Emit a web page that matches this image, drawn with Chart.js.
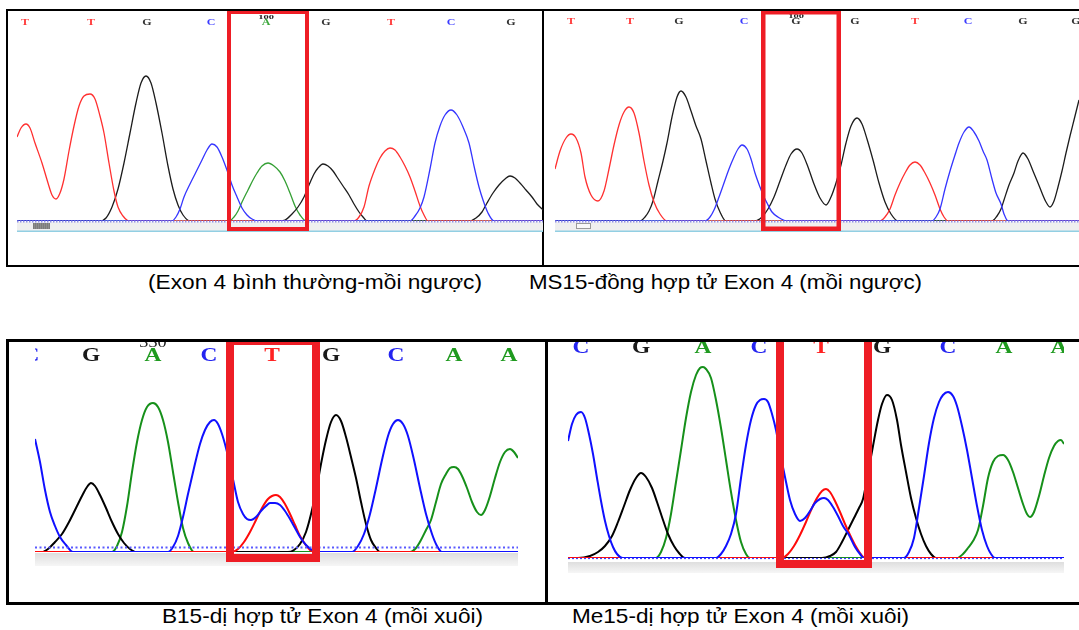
<!DOCTYPE html>
<html><head><meta charset="utf-8">
<script src="https://cdn.jsdelivr.net/npm/chart.js@4.4.0/dist/chart.umd.min.js"></script>
<style>
html,body{margin:0;padding:0;background:#fff;}
#stage{position:relative;width:1079px;height:630px;overflow:hidden;background:#fff;}
.ln{position:absolute;background:#000;}
canvas{position:absolute;}
.cap{position:absolute;font-family:'Liberation Sans',Arial,sans-serif;font-size:21px;line-height:21px;white-space:nowrap;transform-origin:0 0;color:#000;}
</style></head><body>
<div id="stage">
  <div class="ln" style="left:6px;top:9px;width:1073px;height:2px"></div>
  <div class="ln" style="left:6px;top:9px;width:2px;height:258px"></div>
  <div class="ln" style="left:542px;top:9px;width:2px;height:258px"></div>
  <div class="ln" style="left:6px;top:265px;width:1073px;height:2px"></div>

  <div class="ln" style="left:6px;top:339px;width:1073px;height:3px"></div>
  <div class="ln" style="left:6px;top:339px;width:2.5px;height:266px"></div>
  <div class="ln" style="left:545px;top:339px;width:2.5px;height:266px"></div>
  <div class="ln" style="left:6px;top:602px;width:1073px;height:3px"></div>

  <canvas id="c1" width="526" height="221" style="left:17px;top:11px"></canvas>
  <canvas id="c2" width="524" height="221" style="left:555px;top:11px"></canvas>
  <canvas id="c3" width="483" height="224" style="left:35px;top:342px"></canvas>
  <canvas id="c4" width="496" height="231" style="left:568px;top:342px"></canvas>

  <div class="cap" id="cap1" style="left:148px;top:271px">(Exon 4 bình thường-mồi ngược)</div>
  <div class="cap" id="cap2" style="left:529px;top:271px">MS15-đồng hợp tử Exon 4 (mồi ngược)</div>
  <div class="cap" id="cap3" style="left:162px;top:605px">B15-dị hợp tử Exon 4 (mồi xuôi)</div>
  <div class="cap" id="cap4" style="left:572px;top:605px">Me15-dị hợp tử Exon 4 (mồi xuôi)</div>
</div>
<script>
// ---------------- DATA (scan position within window, signal intensity) ----------------
// Panel 1: Exon 4 normal, reverse primer
const p1Bases = ['T','T','G','C','A','G','T','C','G'];
const p1BasePos = [8,74,130,194,249,309,374,434,494];
const p1PosLabel = ['100', 4];
const p1Box = [210, 292];
const p1T = [[0,84],[4,93],[9,97],[13,93],[18,78],[25,58],[31,38],[35,26],[39,22],[43,28],[47,42],[52,70],[57,95],[62,115],[67,125],[73,127],[78,122],[83,105],[87,88],[92,58],[97,30],[101,14],[106,5],[112,0],[337,0],[342,4],[347,14],[352,35],[358,52],[363,63],[368,70],[373,73],[378,71],[383,64],[388,55],[393,44],[398,30],[403,15],[407,6],[411,0],[526,0]];
const p1G = [[0,0],[83,0],[89,3],[95,14],[101,32],[107,58],[113,88],[119,118],[124,138],[129,145],[134,138],[139,118],[145,88],[151,55],[156,32],[161,16],[166,6],[173,0],[261,0],[268,1],[275,7],[281,14],[287,24],[292,36],[297,47],[301,53],[306,57],[311,55],[316,50],[320,44],[326,35],[332,26],[337,17],[342,9],[346,4],[350,0],[452,0],[459,3],[465,9],[470,18],[476,28],[482,36],[488,42],[493,45],[498,43],[503,38],[509,31],[515,24],[520,17],[526,11]];
const p1C = [[0,0],[155,0],[159,4],[163,12],[167,24],[173,37],[179,49],[185,61],[190,71],[195,77],[200,74],[205,64],[211,48],[215,36],[220,24],[225,13],[230,6],[235,2],[241,0],[393,0],[398,5],[403,13],[407,24],[413,52],[418,78],[423,95],[428,106],[434,111],[440,106],[446,94],[452,78],[457,55],[462,34],[466,21],[471,8],[477,0],[526,0]];
const p1A = [[0,0],[212,0],[217,4],[221,10],[226,21],[231,31],[236,41],[240,48],[245,55],[251,58],[257,55],[263,49],[268,40],[273,28],[278,15],[283,6],[289,0],[526,0]];

// Panel 2: MS15 homozygous, reverse primer
const p2Bases = ['T','T','G','C','G','G','T','C','G','G'];
const p2BasePos = [16,75,124,189,241,300,360,413,468,521];
const p2PosLabel = ['100', 4];
const p2Box = [206, 286];
const p2T = [[0,52],[5,70],[11,83],[16,87],[21,83],[26,68],[30,44],[36,26],[43,20],[49,30],[54,52],[59,76],[64,96],[69,109],[74,114],[79,108],[84,88],[89,60],[94,36],[99,19],[105,7],[112,0],[325,0],[330,4],[335,12],[340,26],[345,38],[350,48],[355,56],[360,59],[365,56],[370,48],[375,38],[380,26],[385,12],[389,4],[393,0],[524,0]];
const p2G = [[0,0],[85,0],[90,4],[94,10],[98,20],[103,40],[108,60],[112,78],[117,104],[122,124],[126,130],[131,124],[136,110],[141,95],[146,82],[151,60],[156,38],[160,22],[165,9],[171,0],[200,0],[207,4],[213,12],[219,24],[225,40],[231,56],[236,67],[242,72],[247,68],[253,54],[259,37],[265,23],[271,16],[276,24],[281,38],[286,56],[291,78],[296,95],[302,103],[307,97],[312,82],[318,61],[324,38],[330,19],[336,7],[343,0],[437,0],[442,5],[446,12],[449,21],[454,36],[459,48],[463,60],[468,68],[473,62],[478,50],[483,38],[487,28],[491,19],[495,14],[499,20],[503,34],[507,50],[511,68],[515,85],[519,101],[524,121]];
const p2C = [[0,0],[150,0],[155,4],[159,11],[164,24],[169,38],[174,52],[179,64],[183,72],[187,76],[192,72],[196,62],[200,48],[205,34],[209,24],[212,18],[217,9],[223,4],[232,0],[377,0],[381,4],[385,12],[390,32],[395,50],[400,66],[404,78],[409,89],[414,94],[419,89],[424,80],[428,70],[432,61],[437,42],[441,28],[446,17],[449,7],[453,0],[524,0]];
const p2A = [[0,0],[524,0]];

// Panel 3: B15 heterozygous, forward primer
const p3Bases = ['C','G','A','C','T','G','C','A','A'];
const p3BasePos = [-4,56,118,174,237,296,361,419,474];
const p3PosLabel = ['330', 2];
const p3Box = [191, 285];
const p3C = [[0,113],[5,90],[10,62],[15,40],[20,26],[25,15],[31,7],[38,0],[133,0],[138,5],[143,16],[148,35],[153,58],[159,84],[165,108],[170,122],[175,130],[179,132],[183,128],[187,118],[191,104],[195,87],[199,68],[203,50],[208,38],[212,33],[216,32],[221,35],[226,41],[231,46],[235,49],[240,49],[245,47],[250,41],[255,33],[260,24],[265,15],[271,7],[277,2],[283,0],[317,0],[323,6],[329,18],[335,38],[341,64],[347,92],[353,116],[358,128],[363,132],[368,128],[373,116],[379,92],[385,64],[391,38],[397,18],[402,6],[407,0],[483,0]];
const p3G = [[0,0],[7,0],[13,3],[20,10],[27,18],[34,30],[41,44],[48,58],[52,65],[56,69],[60,66],[65,57],[71,44],[77,30],[83,18],[89,9],[95,3],[101,0],[253,0],[259,2],[265,8],[271,20],[277,42],[282,66],[286,88],[291,112],[296,130],[301,137],[306,131],[311,115],[316,95],[321,74],[326,50],[331,28],[336,12],[341,4],[345,0],[483,0]];
const p3A = [[0,0],[77,0],[82,6],[87,20],[92,46],[97,80],[102,110],[107,132],[112,145],[118,149],[123,145],[128,132],[133,110],[138,80],[143,50],[148,24],[153,9],[159,0],[375,0],[381,4],[386,12],[391,22],[396,32],[401,50],[406,68],[411,78],[415,84],[419,85],[423,83],[427,76],[432,64],[437,50],[442,40],[446,37],[450,42],[455,56],[460,74],[465,90],[470,100],[475,103],[479,100],[483,94]];
const p3T = [[0,0],[197,0],[203,3],[209,10],[215,20],[221,32],[227,44],[233,53],[237,56],[241,57],[245,55],[250,48],[255,38],[260,27],[265,16],[270,8],[275,2],[279,0],[483,0]];

// Panel 4: Me15 heterozygous, forward primer
const p4Bases = ['C','G','A','C','T','G','C','A','A'];
const p4BasePos = [13,73,135,191,253,314,380,436,491];
const p4Box = [208, 304];
const p4C = [[0,117],[4,134],[8,143],[13,146],[17,140],[21,124],[25,104],[29,80],[33,57],[37,37],[41,22],[45,11],[49,4],[55,0],[148,0],[153,4],[158,12],[163,24],[168,44],[173,80],[178,113],[183,138],[188,153],[192,158],[196,159],[200,156],[204,144],[208,128],[212,106],[217,81],[222,58],[227,44],[232,37],[237,40],[242,47],[247,55],[252,59],[256,60],[260,58],[265,51],[270,42],[275,32],[281,23],[287,11],[292,4],[296,0],[336,0],[341,6],[346,20],[351,50],[356,82],[361,115],[366,140],[371,156],[375,163],[380,166],[385,162],[389,152],[394,132],[399,108],[404,80],[409,52],[414,28],[419,12],[423,4],[427,0],[496,0]];
const p4G = [[0,0],[10,0],[22,2],[30,6],[37,12],[44,22],[50,36],[56,52],[62,68],[68,80],[73,85],[78,81],[84,70],[89,56],[95,38],[100,24],[106,12],[111,5],[117,0],[254,0],[262,2],[268,6],[274,16],[280,28],[286,40],[291,50],[295,59],[300,85],[305,112],[310,138],[314,154],[319,163],[324,158],[329,138],[333,113],[338,86],[343,60],[348,40],[353,24],[358,12],[363,4],[368,0],[496,0]];
const p4A = [[0,0],[88,0],[93,6],[98,20],[103,44],[108,76],[113,108],[118,140],[123,166],[128,183],[132,190],[135,191],[138,189],[143,180],[148,158],[153,130],[158,98],[163,66],[168,38],[173,16],[178,4],[182,0],[389,0],[395,4],[400,10],[405,17],[410,28],[415,52],[420,80],[425,96],[430,102],[435,103],[440,98],[445,86],[450,70],[455,54],[459,44],[462,41],[466,46],[471,62],[476,82],[481,100],[486,112],[490,117],[493,118],[496,114]];
const p4T = [[0,0],[214,0],[220,4],[226,12],[232,23],[238,36],[244,50],[249,60],[254,67],[258,69],[262,66],[267,57],[272,46],[277,34],[282,23],[287,13],[292,5],[297,0],[496,0]];

// ---------------- STYLE ----------------
const topTrace = {A:'#35a035', C:'#3535ff', G:'#1c1c1c', T:'#ff3030'};
const botTrace = {A:'#16901a', C:'#1010ff', G:'#000000', T:'#ff0a0a'};
const topLetter = {A:'#3aa63a', C:'#3c3cff', G:'#333333', T:'#ff3c3c'};
const botLetter = {A:'#1f9a1f', C:'#2424f0', G:'#1a1a1a', T:'#ff2222'};

const chromo = {
  id:'chromo',
  beforeDatasetsDraw(chart, args, o){
    const ctx = chart.ctx, ca = chart.chartArea, xs = chart.scales.x;
    ctx.save();
    if (o.kind === 'top') {
      ctx.fillStyle = '#efefef';
      ctx.fillRect(ca.left, ca.bottom + 1, ca.right - ca.left, 9);
      ctx.fillStyle = '#92cfe3';
      ctx.fillRect(ca.left, ca.bottom + 9.5, ca.right - ca.left, 1.5);
      const t0 = xs.getPixelForValue(o.thumb[0]), t1 = xs.getPixelForValue(o.thumb[1]);
      if (o.thumbDark) {
        ctx.fillStyle = '#7c7c7c';
        ctx.fillRect(t0, ca.bottom + 2, t1 - t0, 6);
        ctx.strokeStyle = '#9a9a9a'; ctx.lineWidth = 0.6;
        for (let x = t0 + 1.5; x < t1; x += 2) { ctx.beginPath(); ctx.moveTo(x, ca.bottom + 2); ctx.lineTo(x, ca.bottom + 8); ctx.stroke(); }
      } else {
        ctx.fillStyle = '#f8f8f8';
        ctx.fillRect(t0, ca.bottom + 2, t1 - t0, 6);
        ctx.strokeStyle = '#9a9a9a'; ctx.lineWidth = 1;
        ctx.strokeRect(t0 + 0.5, ca.bottom + 2.5, t1 - t0 - 1, 5);
      }
    } else {
      const h = chart.height - ca.bottom - o.bandOff;
      const g = ctx.createLinearGradient(0, ca.bottom + o.bandOff, 0, chart.height);
      g.addColorStop(0, '#dedede'); g.addColorStop(1, '#f6f6f6');
      ctx.fillStyle = g;
      ctx.fillRect(ca.left, ca.bottom + o.bandOff, ca.right - ca.left, h);
    }
    ctx.restore();
  },
  afterDatasetsDraw(chart, args, o){
    const ctx = chart.ctx, ca = chart.chartArea, xs = chart.scales.x, ys = chart.scales.y;
    ctx.save();
    // threshold dotted line
    const dy = Math.round(ys.getPixelForValue(o.dotValue)) + 0.5;
    ctx.strokeStyle = o.dotColor; ctx.lineWidth = o.dotWidth; ctx.setLineDash(o.dotDash);
    ctx.beginPath(); ctx.moveTo(ca.left, dy); ctx.lineTo(ca.right, dy); ctx.stroke();
    ctx.setLineDash([]);
    // base calls
    ctx.textAlign = 'center'; ctx.textBaseline = 'middle';
    ctx.font = o.letterFont;
    o.bases.forEach((b, i) => {
      const px = xs.getPixelForValue(o.basePos[i]);
      ctx.save(); ctx.translate(px, o.letterY); ctx.scale(o.letterSX, 1);
      ctx.fillStyle = o.letterColors[b]; ctx.fillText(b, 0, 0); ctx.restore();
    });
    if (o.posLabel) {
      const px = xs.getPixelForValue(o.basePos[o.posLabel[1]]);
      ctx.font = o.labelFont; ctx.fillStyle = '#222'; ctx.textBaseline = 'alphabetic';
      ctx.save(); ctx.translate(px, o.labelY); ctx.scale(o.letterSX, 1);
      ctx.fillText(o.posLabel[0], 0, 0); ctx.restore();
    }
    // highlight box
    const b0 = xs.getPixelForValue(o.box[0]), b1 = xs.getPixelForValue(o.box[1]);
    const lw = o.boxWidth;
    ctx.strokeStyle = '#ee1d25'; ctx.lineWidth = lw;
    ctx.strokeRect(b0 + lw/2, o.boxTop + lw/2, b1 - b0 - lw, o.boxBottom - o.boxTop - lw);
    ctx.restore();
  }
};

function toXY(arr){ return arr.map(p => ({x:p[0], y:p[1]})); }

function makeChart(id, series, colors, width, yMax, padBottom, lineW, plug){
  const order = ['C','T','G','A'];
  const datasets = order.filter(k => series[k]).map(k => ({
    label: k, data: toXY(series[k]), borderColor: colors[k], borderWidth: lineW,
    pointRadius: 0, fill: false, cubicInterpolationMode: 'monotone', borderJoinStyle: 'round'
  }));
  return new Chart(document.getElementById(id), {
    type: 'line',
    data: { datasets },
    options: {
      responsive: false, animation: false, devicePixelRatio: 1,
      layout: { padding: { left: 0, right: 0, top: 0, bottom: padBottom } },
      scales: {
        x: { type: 'linear', min: 0, max: width, display: false },
        y: { min: 0, max: yMax, display: false }
      },
      plugins: { legend: { display: false }, tooltip: { enabled: false }, chromo: plug }
    },
    plugins: [chromo]
  });
}

const smallFont = "bold 8px 'Liberation Serif', 'DejaVu Serif', serif";
const bigFont = "bold 18px 'Liberation Serif', 'DejaVu Serif', serif";

makeChart('c1', {A:p1A, C:p1C, G:p1G, T:p1T}, topTrace, 526, 210, 11, 1.3, {
  kind:'top', thumb:[16,33], thumbDark:true,
  dotValue:0, dotColor:'#8f8fe6', dotWidth:2, dotDash:[1.5,1.5],
  bases:p1Bases, basePos:p1BasePos, letterColors:topLetter, letterFont:smallFont, letterSX:1.5, letterY:11.5,
  posLabel:p1PosLabel, labelFont:"bold 7px 'Liberation Serif', serif", labelY:8,
  box:p1Box, boxTop:-1, boxBottom:220, boxWidth:4
});
makeChart('c2', {A:p2A, C:p2C, G:p2G, T:p2T}, topTrace, 524, 210, 11, 1.3, {
  kind:'top', thumb:[21,36], thumbDark:false,
  dotValue:0, dotColor:'#8f8fe6', dotWidth:2, dotDash:[1.5,1.5],
  bases:p2Bases, basePos:p2BasePos, letterColors:topLetter, letterFont:smallFont, letterSX:1.5, letterY:10.5,
  posLabel:p2PosLabel, labelFont:"bold 7px 'Liberation Serif', serif", labelY:7,
  box:p2Box, boxTop:-1, boxBottom:220, boxWidth:4.5
});
makeChart('c3', {A:p3A, C:p3C, G:p3G, T:p3T}, botTrace, 483, 210, 14, 2, {
  kind:'bottom', bandOff:1,
  dotValue:5, dotColor:'#5a5aff', dotWidth:1.8, dotDash:[2,2.5],
  bases:p3Bases, basePos:p3BasePos, letterColors:botLetter, letterFont:bigFont, letterSX:1.3, letterY:14,
  posLabel:p3PosLabel, labelFont:"14px 'Liberation Serif', serif", labelY:5,
  box:p3Box, boxTop:-5, boxBottom:220, boxWidth:8
});
makeChart('c4', {A:p4A, C:p4C, G:p4G, T:p4T}, botTrace, 496, 216, 15, 2, {
  kind:'bottom', bandOff:4,
  dotValue:0, dotColor:'#4040ff', dotWidth:1.2, dotDash:[2,2],
  bases:p4Bases, basePos:p4BasePos, letterColors:botLetter, letterFont:bigFont, letterSX:1.3, letterY:6,
  posLabel:null,
  box:p4Box, boxTop:-9, boxBottom:226, boxWidth:8
});

// caption widths as measured on the reference
const capWidths = {cap1:334, cap2:393, cap3:321, cap4:337};
Object.keys(capWidths).forEach(id => {
  const el = document.getElementById(id);
  const w = el.getBoundingClientRect().width;
  el.style.transform = 'scaleX(' + (capWidths[id] / w) + ')';
});
</script>
</body></html>
